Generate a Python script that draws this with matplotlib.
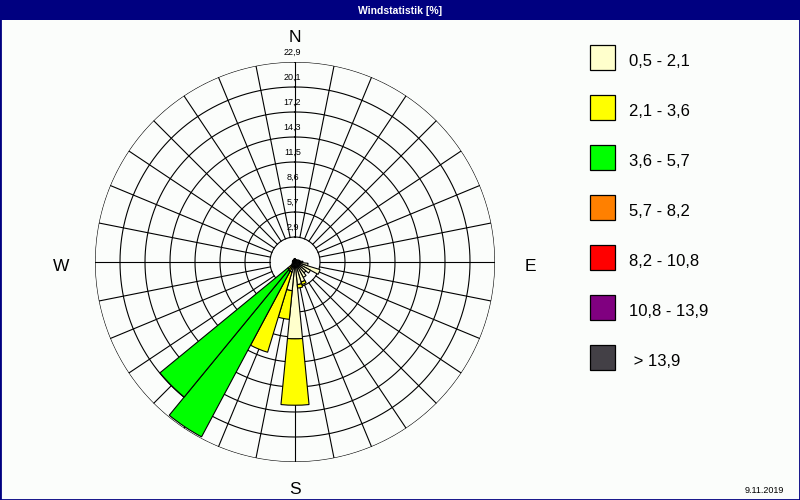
import numpy as np
import matplotlib
matplotlib.use("Agg")
import matplotlib.pyplot as plt
from matplotlib.patches import Rectangle
import matplotlib.transforms as mtransforms

plt.rcParams['font.family'] = ['Liberation Sans', 'DejaVu Sans']

# ---------------- data ----------------
title = "Windstatistik [%]"
date_text = "9.11.2019"
n_dirs = 32  # 32 compass sectors (11.25 deg each), starting at North, clockwise

class_labels = ["0,5 - 2,1", "2,1 - 3,6", "3,6 - 5,7", "5,7 - 8,2",
                "8,2 - 10,8", "10,8 - 13,9", " > 13,9"]
class_colors = ["#FFFFCC", "#FFFF00", "#00FF00", "#FF8000",
                "#FF0000", "#800080", "#434046"]

# frequency (%) per sector for each wind-speed class
cls_0_5_2_1 = [0.4, 0.3, 0.3, 0.3, 0.3, 0.4, 0.5, 0.6,
               0.9, 1.5, 3.0, 2.0, 1.6, 2.0, 2.4, 2.6,
               8.8, 3.3, 1.2, 0.6, 0.5, 0.4, 0.3, 0.3,
               0.3, 0.3, 0.3, 0.3, 0.3, 0.3, 0.3, 0.4]
cls_2_1_3_6 = [0, 0, 0, 0, 0, 0, 0, 0,
               0, 0, 0, 0, 0, 0, 0.3, 0.4,
               7.6, 3.3, 9.6, 0.6, 0.6, 0, 0, 0,
               0, 0, 0, 0, 0, 0, 0, 0]
cls_3_6_5_7 = [0, 0, 0, 0, 0, 0, 0, 0,
               0, 0, 0, 0, 0, 0, 0, 0,
               0, 0, 0, 21.5, 18.9, 0, 0, 0,
               0, 0, 0, 0, 0, 0, 0, 0]
cls_5_7_8_2 = [0] * 32
cls_8_2_10_8 = [0] * 32
cls_10_8_13_9 = [0] * 32
cls_gt_13_9 = [0] * 32
class_values = [cls_0_5_2_1, cls_2_1_3_6, cls_3_6_5_7, cls_5_7_8_2,
                cls_8_2_10_8, cls_10_8_13_9, cls_gt_13_9]

r_max = 22.9
ring_values = [2.8625, 5.725, 8.5875, 11.45, 14.3125, 17.175, 20.0375, 22.9]
ring_labels = ["2,9", "5,7", "8,6", "11,5", "14,3", "17,2", "20,1", "22,9"]
compass = ["N", "E", "S", "W"]

# ---------------- figure ----------------
W, H = 800, 500
bg = "#FBFDFB"
navy = "#000080"
fig = plt.figure(figsize=(W / 100, H / 100), dpi=100, facecolor=bg)

def fx(x):
    return x / W

def fy(y):
    return 1 - y / H

cx, cy, R = 295, 262, 200
ax = fig.add_axes([fx(cx - R), fy(cy + R), 2 * R / W, 2 * R / H], projection="polar")
ax.set_theta_zero_location("N")
ax.set_theta_direction(-1)
ax.set_ylim(0, r_max)
ax.grid(False)
ax.set_xticks([])
ax.set_yticks([])
ax.spines["polar"].set_visible(False)
ax.patch.set_alpha(0)

# grid: circles and spokes
tt = np.linspace(0, 2 * np.pi, 721)
for rv in ring_values:
    ax.plot(tt, np.full_like(tt, rv), color="black", lw=0.8, zorder=1)
sector = 2 * np.pi / n_dirs
thetas = np.arange(n_dirs) * sector
for t in thetas:
    ax.plot([t, t], [ring_values[0], r_max], color="black", lw=0.8, zorder=1)

# stacked bars
bottom = np.zeros(n_dirs)
for vals, col in zip(class_values, class_colors):
    v = np.asarray(vals, dtype=float)
    m = v > 0
    if m.any():
        ax.bar(thetas[m], v[m], width=sector, bottom=bottom[m], align="center",
               color=col, edgecolor="black", linewidth=0.8, zorder=3)
    bottom += v

# ring labels along the north axis
trans = mtransforms.offset_copy(ax.transData, fig=fig, x=-2.5, y=10, units="dots")
for rv, lab in zip(ring_values, ring_labels):
    ax.text(0, rv, lab, transform=trans, ha="center", va="center",
            fontsize=6.5, color="black", zorder=5)

# compass letters
fig.text(fx(295), fy(42), compass[0], ha="center", va="baseline", fontsize=12.5)
fig.text(fx(530), fy(271), compass[1], ha="center", va="baseline", fontsize=12.5)
fig.text(fx(295), fy(494), compass[2], ha="center", va="baseline", fontsize=12.5)
fig.text(fx(61), fy(271), compass[3], ha="center", va="baseline", fontsize=12.5)

# legend
for i, (lab, col) in enumerate(zip(class_labels, class_colors)):
    top = 45 + 50 * i
    fig.add_artist(Rectangle((fx(590), fy(top + 25)), 25 / W, 25 / H,
                             transform=fig.transFigure, facecolor=col,
                             edgecolor="black", linewidth=0.9))
    fig.text(fx(629), fy(top + 21), lab, ha="left", va="baseline", fontsize=12)

# title bar
fig.add_artist(Rectangle((0, fy(20)), 1, 20 / H, transform=fig.transFigure,
                         facecolor=navy, edgecolor="none"))
fig.text(0.5, fy(10.5), title, ha="center", va="center", color="white",
         fontsize=7.5, fontweight="bold")

# border
fig.add_artist(Rectangle((0, 0), 1, 1, transform=fig.transFigure, fill=False,
                         edgecolor=navy, linewidth=2))

# date
fig.text(fx(784), fy(493), date_text, ha="right", va="baseline", fontsize=6.5)

fig.savefig("out.png", dpi=100, facecolor=bg)
